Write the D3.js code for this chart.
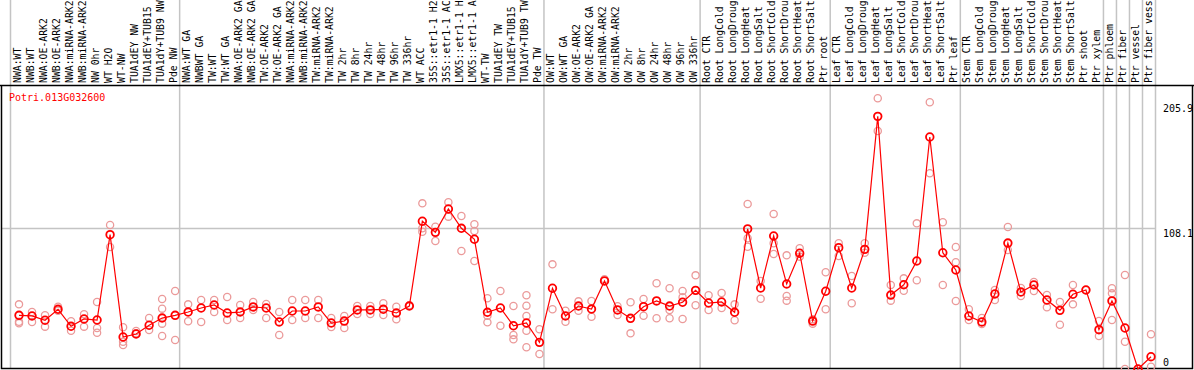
<!DOCTYPE html>
<html>
<head>
<meta charset="utf-8">
<script src="https://cdn.jsdelivr.net/npm/d3@7"></script>
<style>
  body { margin: 0; background: #fff; }
  text { font-family: "DejaVu Sans Mono", monospace; font-size: 10px; }
  text.sample { font-size: 9.8px; }
</style>
</head>
<body>
<div id="chart"></div>
<script>
var geneName = "Potri.013G032600";

// sample names as shown (the header only has room for 14 characters)
var samples = [
  "NWA:WT", "NWB:WT", "NWA:OE-ARK2", "NWB:OE-ARK2", "NWA:miRNA-ARK2", "NWB:miRNA-ARK2",
  "NW 0hr", "WT H2O", "WT-NW", "TUA1dEY NW", "TUA1dEY+TUB15", "TUA1dY+TUB9 NW", "Pde NW",
  "NWA:WT GA", "NWBWT GA", "TW:WT", "TW:WT GA", "NWA:OE-ARK2 GA", "NWB:OE-ARK2 GA",
  "TW:OE-ARK2", "TW:OE-ARK2 GA", "NWA:miRNA-ARK2", "NWB:miRNA-ARK2", "TW:miRNA-ARK2", "TW:miRNA-ARK2",
  "TW 2hr", "TW 8hr", "TW 24hr", "TW 48hr", "TW 96hr", "TW 336hr", "WT ACC",
  "35S::etr1-1 H2", "35S::etr1-1 AC", "LMX5::etr1-1 H", "LMX5::etr1-1 A",
  "WT-TW", "TUA1dEY TW", "TUA1dEY+TUB15", "TUA1dY+TUB9 TW", "Pde TW",
  "OW:WT", "OW:WT GA", "OW:OE-ARK2", "OW:OE-ARK2 GA", "OW:miRNA-ARK2", "OW:miRNA-ARK2",
  "OW 2hr", "OW 8hr", "OW 24hr", "OW 48hr", "OW 96hr", "OW 336hr",
  "Root CTR", "Root LongCold", "Root LongDroug", "Root LongHeat", "Root LongSalt",
  "Root ShortCold", "Root ShortDrou", "Root ShortHeat", "Root ShortSalt", "Ptr root",
  "Leaf CTR", "Leaf LongCold", "Leaf LongDroug", "Leaf LongHeat", "Leaf LongSalt",
  "Leaf ShortCold", "Leaf ShortDrou", "Leaf ShortHeat", "Leaf ShortSalt", "Ptr leaf",
  "Stem CTR", "Stem LongCold", "Stem LongDroug", "Stem LongHeat", "Stem LongSalt",
  "Stem ShortCold", "Stem ShortDrou", "Stem ShortHeat", "Stem ShortSalt", "Ptr shoot",
  "Ptr xylem", "Ptr phloem", "Ptr fiber", "Ptr vessel", "Ptr fiber vess"
];

// mean expression per sample
var means = [
  41.1, 40.6, 37.3, 45.7, 32.7, 38.3, 37.5, 102.8, 24.5, 26.8, 33.5, 39.0, 41.1,
  43.6, 46.7, 49.0, 42.9, 43.6, 47.5, 46.7, 36.0, 44.4, 44.4, 47.5, 35.2, 36.7,
  45.2, 45.2, 45.7, 42.9, 48.2, 113.1, 104.6, 122.5, 107.7, 99.3, 43.4, 46.7, 33.1, 35.2, 20.4,
  61.8, 40.6, 48.2, 45.9, 67.4, 45.2, 38.8, 47.7, 52.1, 48.2, 51.1, 60.2,
  50.5, 51.3, 43.4, 107.2, 62.0, 101.8, 65.1, 88.6, 36.7, 59.5,
  92.9, 62.0, 91.6, 193.4, 56.6, 64.5, 82.7, 177.6, 89.0, 75.8,
  40.6, 36.0, 57.4, 96.4, 58.9, 64.3, 52.8, 44.9, 57.2, 60.5,
  30.1, 52.1, 31.4, 0, 9.4
];

// individual replicates per sample
var replicates = [
  [49.5, 36.2, 35.0], [43.6, 36.0], [41.1, 32.4], [47.7, 44.6], [36.5, 29.3], [41.9, 32.4],
  [51.3, 31.4, 27.8], [110.2, 93.4], [31.9, 20.9, 18.4], [27.3, 29.1], [39.0, 29.9],
  [53.6, 46.2, 34.7, 25.3], [59.7, 22.2],
  [49.5, 36.5], [52.8, 36.0], [52.8, 43.6], [55.1, 37.5], [49.0, 39.0], [51.3, 45.2],
  [49.8, 39.0], [43.6, 26.0], [52.8, 37.5], [52.8, 39.0], [52.8, 39.0], [39.0, 32.2],
  [40.6, 31.4], [48.2, 42.1], [48.2, 42.1], [50.3, 41.3], [47.7, 38.0], [48.8],
  [126.8, 107.7, 105.1], [108.9, 98.0], [127.6, 116.6], [117.1, 90.3], [110.8, 105.6, 82.7],
  [54.1, 40.8, 35.7], [59.7, 33.1], [48.2, 26.0, 22.7], [56.4, 48.5, 40.6, 29.3, 16.6], [30.4, 11.5],
  [80.1, 45.7], [44.6, 36.2], [51.8, 44.6], [52.1, 40.0], [68.7], [48.0, 41.3],
  [51.1, 27.3], [53.6, 40.8], [65.6, 38.8], [61.8, 45.2, 38.8], [59.7, 54.9, 38.3], [71.7, 48.8],
  [56.4, 45.2], [58.2, 46.7], [49.5, 37.3], [126.3, 100.1, 93.6], [67.4, 53.8],
  [118.7, 96.2, 88.0], [87.0, 55.9, 52.3], [92.4, 86.0], [38.0, 34.7], [74.0, 45.7],
  [96.2, 86.5], [71.2, 50.3], [96.2, 89.0], [207.2, 182.2], [64.3, 52.3],
  [69.4, 59.9], [111.5, 67.9], [204.2, 149.8], [112.3, 64.3], [93.4, 81.7, 52.1],
  [45.7, 37.5], [39.0, 34.4], [60.5, 52.8], [108.7, 91.1], [62.0, 55.9],
  [66.6, 59.7], [56.6, 47.2], [51.3, 33.9], [64.3, 49.5], [60.5],
  [36.7, 25.3], [61.8, 57.9, 37.5], [72.0, 20.9, 0], [0], [26.6, 1.8]
];

// group boundaries (sample index where a new block starts)
var groupBreaks = [0, 13, 41, 53, 63, 73, 84, 85, 86, 87, 88];
var yTicks = [0, 108.1, 205.9];
var gridValues = [108.1];

var width = 1194,
    height = 370;
var labelBottom = 85,
    plotBottom = 368,
    plotLeft = 11,
    plotRight = 1156;

var svg = d3.select("#chart").append("svg")
    .attr("width", width)
    .attr("height", height);

var x = d3.scaleBand()
    .domain(d3.range(samples.length))
    .range([plotLeft, plotRight]);
var bw = x.bandwidth();
var cx = function(i) { return x(i) + bw / 2 + 1.5; };

var y = d3.scaleLinear()
    .domain([0, 205.9])
    .range([369, 100]);

// vertical separators, full height
svg.selectAll("line.vsep")
    .data(groupBreaks).enter().append("line")
    .attr("class", "vsep")
    .attr("x1", function(d) { return (d < samples.length ? x(d) : plotRight) - 0.5; })
    .attr("x2", function(d) { return (d < samples.length ? x(d) : plotRight) - 0.5; })
    .attr("y1", 0)
    .attr("y2", plotBottom)
    .attr("stroke", "#c4c4c4")
    .attr("stroke-width", 1.5);

// horizontal grid
svg.selectAll("line.hgrid")
    .data(gridValues).enter().append("line")
    .attr("class", "hgrid")
    .attr("x1", 1)
    .attr("x2", plotRight)
    .attr("y1", function(d) { return Math.round(y(d)) + 0.5; })
    .attr("y2", function(d) { return Math.round(y(d)) + 0.5; })
    .attr("stroke", "#c4c4c4")
    .attr("stroke-width", 1.5);

// frame
svg.append("line")
    .attr("x1", 0).attr("x2", width)
    .attr("y1", labelBottom + 0.5).attr("y2", labelBottom + 0.5)
    .attr("stroke", "#000").attr("stroke-width", 1.5);
svg.append("path")
    .attr("d", "M1.5," + labelBottom + " V" + (plotBottom + 0.5) + " H" + (width - 1.5) + " V" + labelBottom)
    .attr("fill", "none")
    .attr("stroke", "#000")
    .attr("stroke-width", 1.5);

// sample labels, rotated
svg.selectAll("text.sample")
    .data(samples).enter().append("text")
    .attr("class", "sample")
    .attr("transform", function(d, i) {
        return "translate(" + (cx(i) + 1.5) + "," + (labelBottom - 2) + ") rotate(-90)";
    })
    .attr("fill", "#000")
    .text(function(d) { return d; });

// gene name
svg.append("text")
    .attr("x", 9)
    .attr("y", 101)
    .attr("fill", "#ff0000")
    .text(geneName);

// y tick labels
svg.selectAll("text.ytick")
    .data(yTicks).enter().append("text")
    .attr("class", "ytick")
    .attr("x", 1163)
    .attr("y", function(d) {
        if (d === 0) return y(d) - 3;
        if (d === d3.max(yTicks)) return y(d) + 12;
        return y(d) + 9;
    })
    .attr("fill", "#000")
    .text(function(d) { return d; });

// replicates
var repPts = [];
replicates.forEach(function(r, i) {
    r.forEach(function(v) { repPts.push({i: i, v: v}); });
});
svg.selectAll("circle.rep")
    .data(repPts).enter().append("circle")
    .attr("class", "rep")
    .attr("cx", function(d) { return cx(d.i); })
    .attr("cy", function(d) { return y(d.v); })
    .attr("r", 3.6)
    .attr("fill", "none")
    .attr("stroke", "#eb9a9a")
    .attr("stroke-width", 1.3);

// mean line
var line = d3.line()
    .x(function(d, i) { return cx(i); })
    .y(function(d) { return y(d); });
svg.append("path")
    .datum(means)
    .attr("d", line)
    .attr("fill", "none")
    .attr("stroke", "#ff0000")
    .attr("stroke-width", 1.2);

svg.selectAll("circle.mean")
    .data(means).enter().append("circle")
    .attr("class", "mean")
    .attr("cx", function(d, i) { return cx(i); })
    .attr("cy", function(d) { return y(d); })
    .attr("r", 3.8)
    .attr("fill", "none")
    .attr("stroke", "#ff0000")
    .attr("stroke-width", 1.8);
</script>
</body>
</html>
